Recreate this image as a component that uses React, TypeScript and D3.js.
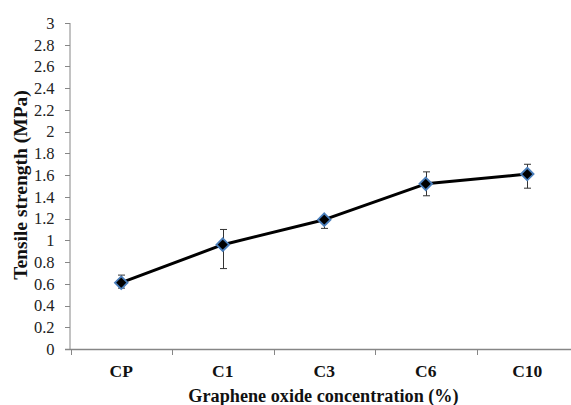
import React from "react";
import * as d3 from "d3";

const categories = ["CP", "C1", "C3", "C6", "C10"];
const values = [0.61, 0.96, 1.19, 1.52, 1.61];
const errPlus = [0.07, 0.14, 0.02, 0.11, 0.09];
const errMinus = [0.05, 0.22, 0.08, 0.11, 0.13];
const yTicks = [0, 0.2, 0.4, 0.6, 0.8, 1, 1.2, 1.4, 1.6, 1.8, 2, 2.2, 2.4, 2.6, 2.8, 3];

const W = 571;
const H = 405;
const left = 70;
const top = 23;
const bottom = 349;
const right = 578;

export default function App() {
  const x = d3.scaleBand<string>().domain(categories).range([left + 0.5, right]).paddingInner(0).paddingOuter(0);
  const y = d3.scaleLinear().domain([0, 3]).range([bottom, top]);
  const cx = (c: string) => (x(c) as number) + x.bandwidth() / 2;
  const line = d3
    .line<number>()
    .x((_, i) => cx(categories[i]))
    .y((d) => y(d));
  const axisColor = "#868686";
  const serif = '"Liberation Serif", "DejaVu Serif", serif';
  const bounds = [...categories.map((c) => x(c) as number), right];
  const diamond = (px: number, py: number, r: number) =>
    `M${px},${py - r}L${px + r},${py}L${px},${py + r}L${px - r},${py}Z`;

  return (
    <svg width={W} height={H} style={{ position: "absolute", left: 0, top: 0, background: "#fff" }}>
      {/* y axis */}
      <line x1={left} x2={left} y1={top} y2={bottom} stroke={axisColor} strokeWidth={1} />
      {yTicks.map((t) => (
        <g key={t}>
          <line x1={left - 5} x2={left} y1={Math.round(y(t)) + 0.5} y2={Math.round(y(t)) + 0.5} stroke={axisColor} />
          <text
            x={54.5}
            y={y(t)}
            dy="0.35em"
            textAnchor="end"
            style={{ fontFamily: serif, fontSize: 16.5 }}
            fill="#222"
          >
            {String(t)}
          </text>
        </g>
      ))}
      {/* x axis */}
      <line x1={left - 5} x2={W} y1={bottom + 0.5} y2={bottom + 0.5} stroke={axisColor} strokeWidth={1.5} />
      {bounds.map((b, i) => (
        <line key={i} x1={Math.round(b) + 0.5} x2={Math.round(b) + 0.5} y1={bottom} y2={bottom + 6} stroke={axisColor} />
      ))}
      {categories.map((c) => (
        <text
          key={c}
          x={cx(c)}
          y={376.5}
          textAnchor="middle"
          style={{ fontFamily: serif, fontSize: 17.5, fontWeight: "bold" }}
          fill="#111"
        >
          {c}
        </text>
      ))}
      <text
        x={323.5}
        y={401.5}
        textAnchor="middle"
        style={{ fontFamily: serif, fontSize: 18.2, fontWeight: "bold" }}
        fill="#111"
      >
        Graphene oxide concentration (%)
      </text>
      <text
        transform={`translate(27,185) rotate(-90)`}
        textAnchor="middle"
        style={{ fontFamily: serif, fontSize: 19.5, fontWeight: "bold" }}
        fill="#111"
      >
        Tensile strength (MPa)
      </text>
      {/* error bars */}
      {categories.map((c, i) => {
        const px = Math.round(cx(c)) + 0.5;
        const yt = y(values[i] + errPlus[i]);
        const yb = y(values[i] - errMinus[i]);
        return (
          <g key={c} stroke="#333" strokeWidth={1}>
            <line x1={px} x2={px} y1={yt} y2={yb} />
            <line x1={px - 3.5} x2={px + 3.5} y1={yt} y2={yt} />
            <line x1={px - 3.5} x2={px + 3.5} y1={yb} y2={yb} />
          </g>
        );
      })}
      <path d={line(values) || ""} fill="none" stroke="#000" strokeWidth={3} strokeLinejoin="round" />
      {categories.map((c, i) => (
        <path
          key={c}
          d={diamond(cx(c), y(values[i]), 6.3)}
          fill="#000"
          stroke="#4a7ebb"
          strokeWidth={1.8}
        />
      ))}
    </svg>
  );
}
